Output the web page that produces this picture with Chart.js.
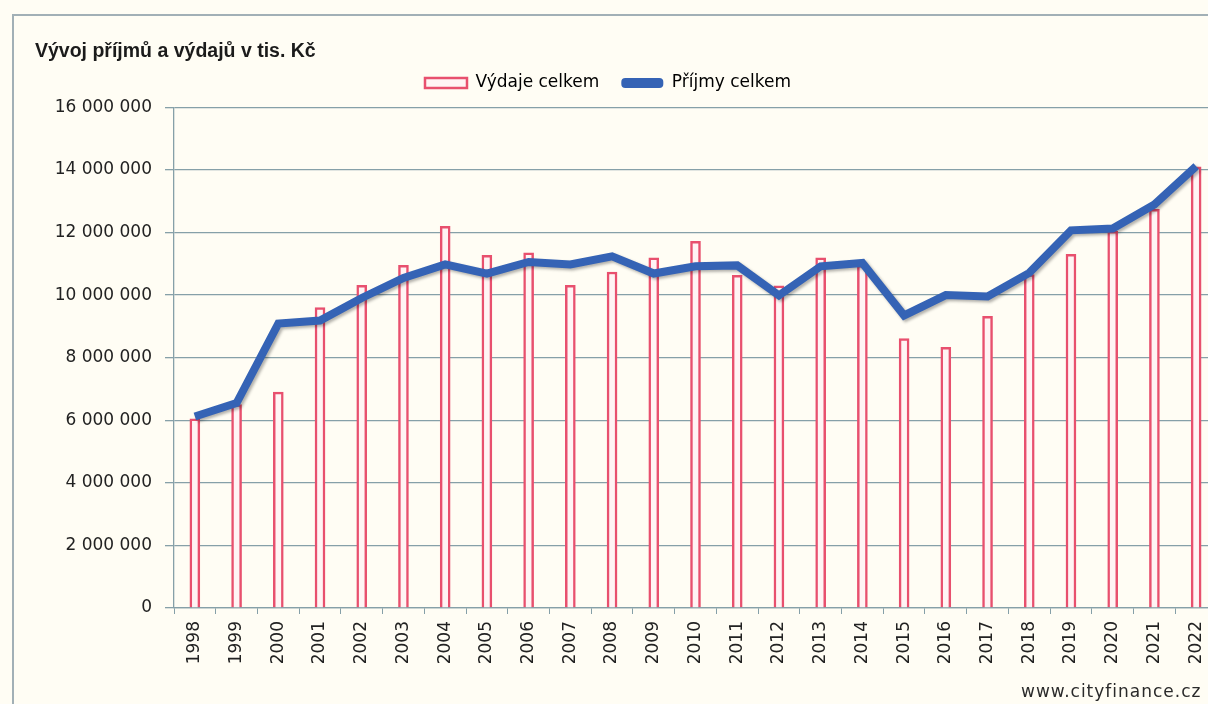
<!DOCTYPE html>
<html>
<head>
<meta charset="utf-8">
<script src="https://cdn.jsdelivr.net/npm/chart.js@4.4.1/dist/chart.umd.min.js"></script>
<style>
  html, body { margin: 0; padding: 0; background: #fffdf4; overflow: hidden; width: 1208px; height: 704px; }
  #frame { position: absolute; left: 12px; top: 14px; width: 2000px; height: 2000px;
           border-top: 2px solid #a2b0b6; border-left: 2px solid #a2b0b6; z-index: 0; }
  #chart { position: absolute; left: 0; top: 0; z-index: 1; }
  #source { position: absolute; left: 1021px; top: 681px; z-index: 2;
            font: 17px "DejaVu Sans", sans-serif; letter-spacing: 1px; color: #2a2a2a; }
</style>
</head>
<body>
<div id="frame"></div>
<canvas id="chart" width="1230" height="704"></canvas>
<div id="source">www.cityfinance.cz</div>
<script>
const years = ["1998", "1999", "2000", "2001", "2002", "2003", "2004", "2005", "2006", "2007", "2008", "2009",
  "2010", "2011", "2012", "2013", "2014", "2015", "2016", "2017", "2018", "2019", "2020", "2021", "2022"];

// Výdaje celkem (bars)
const vydaje = [6050000, 6500000, 6900000, 9600000, 10310000, 10950000, 12200000, 11270000, 11350000,
  10310000, 10740000, 11190000, 11720000, 10630000, 10300000, 11190000, 10950000, 8610000, 8330000,
  9320000, 10660000, 11300000, 12040000, 12740000, 14100000];

// Příjmy celkem (line)
const prijmy = [6120000, 6550000, 9090000, 9190000, 9910000, 10550000, 10980000, 10690000, 11060000,
  10980000, 11240000, 10690000, 10920000, 10950000, 9990000, 10920000, 11030000, 9350000, 10000000,
  9960000, 10710000, 12070000, 12130000, 12900000, 14120000];

const yTicks = [0, 2000000, 4000000, 6000000, 8000000, 10000000, 12000000, 14000000, 16000000];

const gridColor = "#86a0a8";
const barBorder = "#e8506e";
const barFill = "#fff4f4";
const lineColor = "#3563b5";

function fmt(v) {
  return String(v).replace(/\B(?=(\d{3})+(?!\d))/g, " ");
}

const layoutFix = {
  id: "layoutFix",
  beforeInit(chart) {
    const fit = chart.legend.fit;
    chart.legend.fit = function () {
      fit.call(this);
      this.height = 55;
    };
  },
  afterLayout(chart) {
    chart.legend.left -= 18;
    chart.legend.right -= 18;
  }
};

const lineShadow = {
  id: "lineShadow",
  beforeDatasetDraw(chart, args) {
    if (args.index !== 1) return;
    const c = chart.ctx;
    c.save();
    c.shadowColor = "rgba(0,0,0,0.3)";
    c.shadowBlur = 3;
    c.shadowOffsetX = 2;
    c.shadowOffsetY = 2;
  },
  afterDatasetDraw(chart, args) {
    if (args.index !== 1) return;
    chart.ctx.restore();
  }
};

const ctx = document.getElementById("chart").getContext("2d");
const chart = new Chart(ctx, {
  type: "bar",
  data: {
    labels: years,
    datasets: [
      {
        label: "Výdaje celkem",
        data: vydaje,
        backgroundColor: barFill,
        borderColor: barBorder,
        borderWidth: 2.5,
        barThickness: 10,
        order: 1
      },
      {
        type: "line",
        label: "Příjmy celkem",
        data: prijmy,
        borderColor: lineColor,
        backgroundColor: lineColor,
        borderWidth: 8,
        pointRadius: 0,
        tension: 0,
        fill: false,
        order: 0
      }
    ]
  },
  options: {
    responsive: false,
    animation: false,
    layout: { padding: { left: 35, right: 13, top: 0, bottom: 0 } },
    plugins: {
      title: {
        display: true,
        text: "Vývoj příjmů a výdajů v tis. Kč",
        align: "start",
        color: "#1b1b1b",
        font: { family: "Liberation Sans", size: 19.5, weight: "bold", lineHeight: 1.2 },
        padding: { top: 40, bottom: -11 }
      },
      legend: {
        display: true,
        labels: {
          boxWidth: 42,
          boxHeight: 10,
          padding: 22,
          color: "#222",
          useBorderRadius: true,
          font: { family: "DejaVu Sans", size: 17 },
          generateLabels() {
            return [
              { text: "Výdaje celkem", fillStyle: barFill, strokeStyle: barBorder, lineWidth: 2.5, datasetIndex: 0, borderRadius: 0 },
              { text: "Příjmy celkem", fillStyle: lineColor, strokeStyle: lineColor, lineWidth: 0, datasetIndex: 1, borderRadius: 4 }
            ];
          }
        }
      },
      tooltip: { enabled: false }
    },
    scales: {
      x: {
        afterFit(scale) { scale.height = 96; },
        grid: { display: true, offset: true, drawOnChartArea: false, drawTicks: true, tickLength: 6, color: gridColor },
        border: { display: true, color: gridColor, width: 1.3 },
        ticks: {
          minRotation: 90,
          maxRotation: 90,
          autoSkip: false,
          padding: 7,
          color: "#222",
          font: { family: "DejaVu Sans", size: 17 }
        }
      },
      y: {
        min: 0,
        max: 16000000,
        afterFit(scale) { scale.width = 139; },
        afterBuildTicks(scale) { scale.ticks = yTicks.map(v => ({ value: v })); },
        grid: { color: gridColor, lineWidth: 1.3, drawTicks: true, tickLength: 9 },
        border: { display: true, color: gridColor, width: 1.3 },
        ticks: {
          padding: 13,
          color: "#222",
          font: { family: "DejaVu Sans", size: 17 },
          callback: v => fmt(v)
        }
      }
    }
  },
  plugins: [layoutFix, lineShadow]
});
</script>
</body>
</html>
